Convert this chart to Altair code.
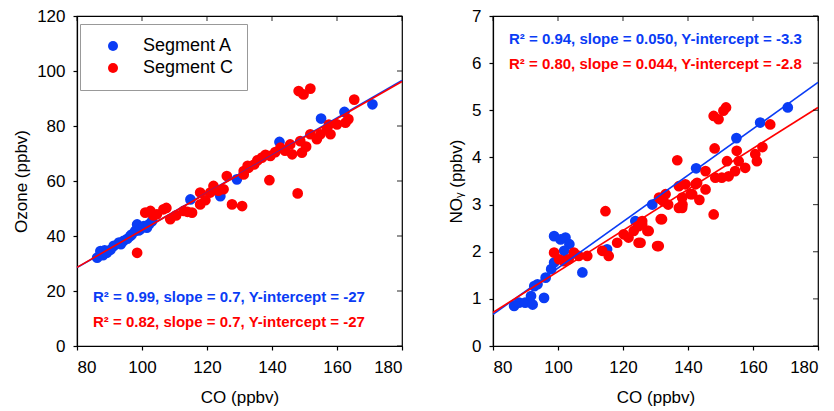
import altair as alt
import pandas as pd

# ---------------- data ----------------
x_ticks = [80, 100, 120, 140, 160, 180]
oz_ticks = [0, 20, 40, 60, 80, 100, 120]
noy_ticks = [0, 1, 2, 3, 4, 5, 6, 7]

# Ozone panel
ozA_x = [86.2, 87.2, 87.5, 88.0, 88.5, 89.2, 90.3, 91.3, 92.9, 93.5, 94.3, 95.5, 96.4, 96.8,
         97.9, 98.5, 99.0, 99.5, 100.6, 101.5, 102.1, 103.1, 114.9, 124.1, 129.2, 142.3,
         155.1, 162.3, 170.9]
ozA_y = [32.1, 34.5, 33.5, 33.0, 34.8, 33.9, 35.0, 36.4, 37.6, 37.0, 38.2, 39.0, 40.0, 40.5,
         41.8, 44.2, 42.0, 42.5, 43.6, 43.0, 44.2, 45.4, 53.3, 54.5, 60.6, 74.2,
         82.7, 85.1, 87.9]
ozC_x = [98.5, 101.0, 102.6, 103.5, 104.6, 106.6, 107.5, 108.7, 110.5, 112.8, 114.0, 115.4,
         117.9, 117.9, 119.5, 121.0, 122.0, 123.5, 125.1, 126.1, 127.7, 130.8, 131.3, 131.3,
         132.5, 132.8, 134.5, 135.5, 136.9, 138.0, 139.5, 139.2, 141.0, 142.6, 144.0, 145.6,
         146.2, 147.9, 148.2, 149.7, 151.8, 148.7, 149.2, 150.5, 151.8, 153.8, 154.9, 156.9,
         157.5, 158.0, 160.0, 162.6, 163.5, 165.3]
ozC_y = [33.9, 48.5, 49.1, 47.5, 47.9, 49.7, 50.2, 46.1, 47.5, 49.1, 48.8, 48.5,
         51.5, 55.8, 53.0, 55.8, 58.2, 56.5, 57.0, 61.8, 51.5, 50.9, 63.6, 62.4,
         65.5, 64.8, 66.0, 67.5, 68.5, 69.5, 69.1, 60.3, 70.5, 72.1, 71.0, 73.3,
         69.7, 55.5, 92.7, 91.5, 93.6, 74.5, 70.3, 72.5, 77.0, 75.2, 77.0, 78.8,
         80.5, 77.0, 80.6, 81.2, 82.5, 89.6]

# NOy panel
nA_x = [86.5, 88.0, 89.9, 92.2, 91.7, 92.7, 93.7, 95.7, 96.2, 97.9, 98.8, 98.8, 100.8, 102.3,
        103.5, 101.9, 107.5, 115.1, 123.8, 129.0, 142.5, 154.9, 162.2, 170.7]
nA_y = [0.85, 0.92, 0.92, 0.88, 1.06, 1.27, 1.31, 1.02, 1.45, 1.63, 1.77, 2.33, 2.26, 2.30,
        2.16, 2.02, 1.56, 2.05, 2.65, 3.00, 3.77, 4.41, 4.74, 5.06]
nC_x = [98.8, 100.3, 101.8, 103.3, 104.9, 106.4, 109.0, 113.6, 115.6, 114.6, 118.2, 120.2,
        121.7, 123.3, 124.8, 125.9, 127.9, 124.8, 131.0, 132.0, 131.5, 132.4, 133.9, 131.1,
        133.1, 137.2, 137.2, 138.2, 138.3, 139.2, 140.8, 142.3, 142.8, 145.4, 145.4, 147.9,
        148.4, 150.4, 152.0, 154.5, 155.0, 155.6, 157.6, 160.7, 161.2, 162.9, 165.3, 136.7,
        148.2, 147.9, 149.4, 150.9, 151.7, 125.9, 127.5, 125.4, 130.5, 131.6, 138.2, 141.3,
        152.5, 143.5]
nC_y = [1.98, 1.84, 1.80, 1.84, 1.98, 1.91, 1.91, 2.02, 1.91, 2.86, 2.19, 2.37,
        2.30, 2.44, 2.54, 2.65, 2.44, 2.19, 2.12, 2.69, 3.12, 3.07, 3.00, 3.15,
        3.22, 3.39, 2.93, 3.15, 3.00, 3.43, 3.22, 3.43, 3.46, 3.32, 3.71, 2.79,
        3.57, 3.57, 3.92, 3.71, 4.14, 3.92, 3.78, 4.07, 3.92, 4.22, 4.70, 3.94,
        4.19, 4.88, 4.81, 4.99, 5.06, 2.58, 2.44, 2.19, 2.12, 2.69, 2.93, 3.22,
        3.60, 3.10]

# regression line end points
line_x = [80, 180]
oz_lineA = [28.5, 96.6]
oz_lineC = [28.6, 96.2]
n_lineA = [0.67, 5.59]
n_lineC = [0.71, 5.06]

oz_text = ["R² = 0.99, slope = 0.7, Y-intercept = -27",
           "R² = 0.82, slope = 0.7, Y-intercept = -27"]
n_text = ["R² = 0.94, slope = 0.050, Y-intercept = -3.3",
          "R² = 0.80, slope = 0.044, Y-intercept = -2.8"]

BLUE = "#0a3cf5"
RED = "#ff0000"
FONT = "Liberation Sans"
segs = ["Segment A", "Segment C"]


def pts_df(ax, ay, cx, cy):
    return pd.DataFrame({
        "x": ax + cx,
        "y": ay + cy,
        "seg": [segs[0]] * len(ax) + [segs[1]] * len(cx),
        "order": [0] * len(ax) + [1] * len(cx),
    })


def panel(df, la, lc, ymax, yticks, ytitle, texts, text_y, show_legend):
    xs = alt.Scale(domain=[80, 180], nice=False, zero=False)
    ys = alt.Scale(domain=[0, ymax], nice=False, zero=False)
    xenc = alt.X("x:Q", scale=xs,
                 axis=alt.Axis(values=x_ticks, title="CO (ppbv)", format="d"))
    yenc = alt.Y("y:Q", scale=ys,
                 axis=alt.Axis(values=yticks, title=ytitle, format="d"))
    if show_legend:
        leg = alt.Legend(title=None, orient="none", legendX=3, legendY=8,
                         padding=13, symbolOffset=11, labelOffset=21,
                         labelFontSize=18, labelFont=FONT, symbolSize=100,
                         symbolType="circle", strokeColor="#999999",
                         fillColor="white", rowPadding=4, labelLimit=300,
                         symbolStrokeWidth=0, symbolOpacity=1)
    else:
        leg = None
    pts = alt.Chart(df).mark_circle(size=115, opacity=1).encode(
        x=xenc, y=yenc,
        color=alt.Color("seg:N", scale=alt.Scale(domain=segs, range=[BLUE, RED]),
                        legend=leg),
        order=alt.Order("order:Q"),
    )
    ldfA = pd.DataFrame({"x": line_x, "y": la})
    ldfC = pd.DataFrame({"x": line_x, "y": lc})
    lineA = alt.Chart(ldfA).mark_line(color=BLUE, strokeWidth=1.6).encode(
        x=alt.X("x:Q", scale=xs), y=alt.Y("y:Q", scale=ys))
    lineC = alt.Chart(ldfC).mark_line(color=RED, strokeWidth=1.6).encode(
        x=alt.X("x:Q", scale=xs), y=alt.Y("y:Q", scale=ys))
    # mirrored ticks on top and right frame
    topdf = pd.DataFrame({"x": x_ticks, "y": [ymax] * len(x_ticks)})
    rightdf = pd.DataFrame({"x": [180] * len(yticks), "y": yticks})
    topt = alt.Chart(topdf).mark_tick(orient="vertical", size=5, thickness=1.2,
                                      color="black", yOffset=2.5).encode(
        x=alt.X("x:Q", scale=xs), y=alt.Y("y:Q", scale=ys))
    rightt = alt.Chart(rightdf).mark_tick(orient="horizontal", size=5, thickness=1.2,
                                          color="black", xOffset=-2.5).encode(
        x=alt.X("x:Q", scale=xs), y=alt.Y("y:Q", scale=ys))
    tdf = pd.DataFrame({"t": texts, "c": segs, "py": text_y})
    txt = alt.Chart(tdf).mark_text(align="left", baseline="middle", font=FONT,
                                   fontSize=15, fontWeight="bold").encode(
        x=alt.value(16), y=alt.Y("py:Q", scale=None), text="t:N",
        color=alt.Color("c:N", scale=alt.Scale(domain=segs, range=[BLUE, RED]),
                        legend=None),
    )
    return alt.layer(pts, lineA, lineC, topt, rightt, txt).properties(
        width=325, height=330)


left = panel(pts_df(ozA_x, ozA_y, ozC_x, ozC_y), oz_lineA, oz_lineC, 120, oz_ticks,
             "Ozone (ppbv)", oz_text, [281, 306], True)
right = panel(pts_df(nA_x, nA_y, nC_x, nC_y), n_lineA, n_lineC, 7, noy_ticks,
              "NOᵧ (ppbv)", n_text, [23, 48], False)

chart = alt.hconcat(left, right, spacing=91, bounds="flush").resolve_scale(
    color="independent"
).properties(
    padding={"left": 12, "top": 6, "right": 5, "bottom": 2}
).configure_view(
    stroke="black", strokeWidth=1.2
).configure_axis(
    grid=False, domainColor="black", domainWidth=1.2, tickColor="black",
    tickSize=4, tickWidth=1.2, labelFont=FONT, labelFontSize=17, labelColor="black",
    titleFont=FONT, titleFontSize=17, titleFontWeight="normal", titleColor="black",
    labelPadding=8,
).configure_axisY(titlePadding=6).configure_axisX(titlePadding=14, labelPadding=9)

chart.save("out.html", embed_options={"renderer": "svg", "actions": False})
